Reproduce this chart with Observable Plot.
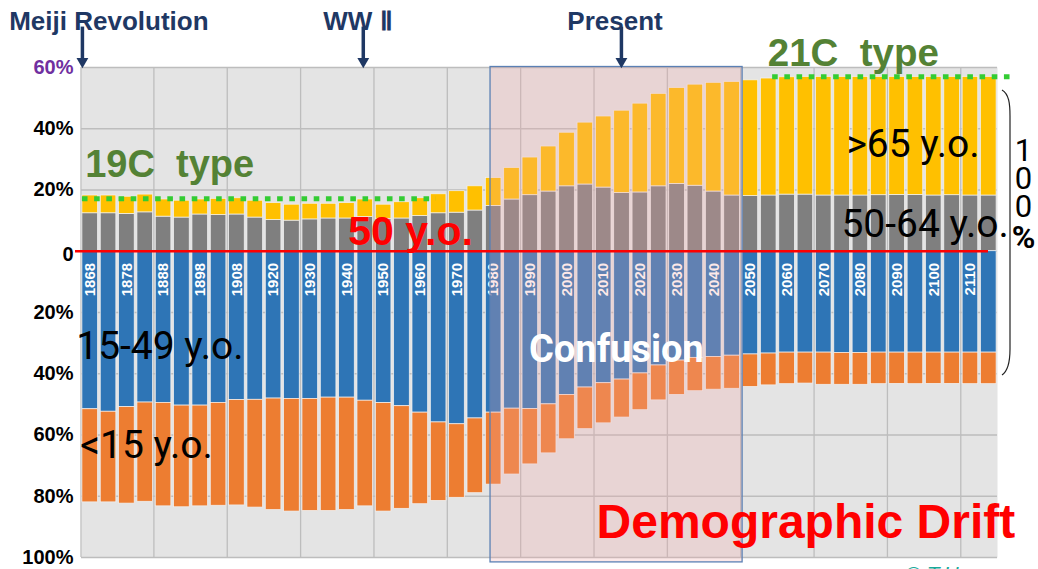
<!DOCTYPE html>
<html><head><meta charset="utf-8">
<script src="https://cdn.jsdelivr.net/npm/d3@7"></script>
<script src="https://cdn.jsdelivr.net/npm/@observablehq/plot@0.6"></script>
<style>
html,body{margin:0;padding:0;background:#fff;overflow:hidden}
#chart svg{display:block}
</style></head><body><div id="chart"></div>
<script>
// ---- data (percent of population) ----
const years = [1868,1873,1878,1883,1888,1893,1898,1903,1908,1913,
  1920,1925,1930,1935,1940,1945,1950,1955,1960,1965,
  1970,1975,1980,1985,1990,1995,2000,2005,2010,2015,
  2020,2025,2030,2035,2040,2045,2050,2055,2060,2065,
  2070,2075,2080,2085,2090,2095,2100,2105,2110,2115];
const age50to64 = [12.4,12.4,12.2,12.7,11.3,11.0,12.0,11.8,12.0,11.0,
  10.2,10.0,10.4,10.7,10.7,11.2,10.6,10.7,11.5,12.4,
  12.6,13.3,14.8,16.9,18.3,19.5,21.2,21.8,20.8,19.0,
  19.2,21.2,22.0,21.4,19.5,18.2,18.0,18.2,18.5,18.5,
  18.2,18.2,18.2,18.3,18.4,18.4,18.2,18.3,18.2,18.2];
const age65plus = [5.8,5.8,5.6,5.8,5.6,5.5,4.9,5.3,5.3,5.5,
  5.5,5.2,5.1,4.8,5.0,5.7,4.6,5.3,5.8,6.2,
  7.0,7.9,9.1,10.3,12.3,14.7,17.5,20.2,23.2,26.9,
  29.0,30.2,31.3,33.0,35.5,37.1,37.8,38.2,38.3,38.4,
  38.7,38.7,38.7,38.6,38.5,38.5,38.7,38.6,38.7,38.7];
const age15to49 = [51.6,52.4,50.9,49.4,49.5,50.4,50.4,49.5,48.6,48.5,
  48.1,48.2,48.2,47.8,47.8,48.8,49.6,50.6,52.7,55.9,
  56.5,54.6,52.7,51.4,51.5,50.0,46.9,44.5,43.1,41.9,
  39.9,37.3,35.7,34.8,34.5,34.1,33.7,33.4,33.1,33.1,
  33.1,33.2,33.2,33.1,33.1,33.1,33.1,33.1,33.1,33.1];
const age0to14 = [30.4,29.6,31.5,32.4,33.8,33.2,32.9,33.6,34.4,35.2,
  36.4,36.8,36.6,37.0,36.7,34.5,35.4,33.5,29.9,25.6,
  24.0,24.4,23.5,21.5,18.1,16.0,14.5,13.6,13.1,12.4,
  12.0,11.4,11.2,10.9,10.7,10.8,10.6,10.4,10.3,10.1,
  10.5,10.4,10.4,10.3,10.2,10.3,10.2,10.2,10.3,10.3];
const labelYears = [1868,1878,1888,1898,1908,1920,1930,1940,1950,1960,1970,
  1980,1990,2000,2010,2020,2030,2040,2050,2060,2070,2080,2090,2100,2110];
const groups = ["50-64 y.o.", ">65 y.o.", "15-49 y.o.", "<15 y.o."];
const groupColors = ["#7f7f7f", "#ffc000", "#2e75b6", "#ed7d31"];
const yTicks = [60,40,20,0,-20,-40,-60,-80,-100];
const gridYears = [1888,1908,1930,1950,1970,1990,2010,2030,2050,2070,2090,2110];
const confusionYears = [1980, 2045];
const type19 = {from: 1868, to: 1965, level: 17.0};
const type21 = {from: 2055, level: 56.8};
const events = [{name: "Meiji Revolution", year: 1868}, {name: "WW Ⅱ", year: 1945}, {name: "Present", year: 2015}];

const rows = years.flatMap((yr, i) => [
  {year: yr, group: groups[0], v: age50to64[i]},
  {year: yr, group: groups[1], v: age65plus[i]},
  {year: yr, group: groups[2], v: -age15to49[i]},
  {year: yr, group: groups[3], v: -age0to14[i]}
]);

function band(x) {
  const step = x(years[1]) - x(years[0]);
  const bw = typeof x.bandwidth === "function" ? x.bandwidth() : step * 0.85;
  return {step, bw, gap: step - bw};
}
function vGrid(index, {x, y}, values, dims) {
  const {gap} = band(x);
  const xs = [dims.marginLeft, ...gridYears.map(yr => x(yr) - gap / 2)];
  const g = d3.create("svg:g");
  g.selectAll("line").data(xs).join("line")
    .attr("x1", d => d).attr("x2", d => d)
    .attr("y1", y(60)).attr("y2", y(-100))
    .attr("stroke", "#bdbdbd").attr("stroke-width", 1.3);
  return g.node();
}
function overlay(index, {x, y}, values, dims) {
  const {bw, step} = band(x);
  const x1 = x(confusionYears[0]) + 0.3 * bw;
  const x2 = x(confusionYears[1]) + step;
  const g = d3.create("svg:g");
  g.append("rect").attr("x", x1).attr("y", y(60) - 0.5)
    .attr("width", x2 - x1).attr("height", y(-101.6) - y(60) + 0.5)
    .attr("fill", "rgb(245,165,165)").attr("fill-opacity", 0.26)
    .attr("stroke", "#5b80b4").attr("stroke-width", 1.3);
  return g.node();
}
function typeLines(index, {x, y}, values, dims) {
  const {bw} = band(x);
  const segs = [
    {x1: x(type19.from), x2: x(type19.to) + 0.35 * bw, y: y(type19.level)},
    {x1: x(type21.from) + 0.75 * bw, x2: dims.width - dims.marginRight + 18, y: y(type21.level)}
  ];
  const g = d3.create("svg:g");
  g.selectAll("line").data(segs).join("line")
    .attr("x1", d => d.x1).attr("x2", d => d.x2).attr("y1", d => d.y).attr("y2", d => d.y)
    .attr("stroke", "#33cc33").attr("stroke-width", 5).attr("stroke-dasharray", "5.6 6.6");
  return g.node();
}
function bracket(index, {x, y}, values, dims) {
  const r = dims.width - dims.marginRight;
  const t = y(52.5), b = y(-40.6);
  const g = d3.create("svg:g");
  g.append("path")
    .attr("d", `M${r + 5},${t} C${r + 12},${t + 4} ${r + 13},${t + 14} ${r + 13},${t + 26} L${r + 13},${b - 26} C${r + 13},${b - 12} ${r + 11},${b - 4} ${r + 5},${b}`)
    .attr("fill", "none").attr("stroke", "#222").attr("stroke-width", 1.2);
  return g.node();
}

const AR = "Liberation Sans, Arial, sans-serif";
const RB = "Roboto, 'Open Sans', sans-serif";
const navy = "#1f3864";
const note = (txt, o) => Plot.text([txt], {text: d => d, lineAnchor: "bottom", ...o});
const arrow = (ev, dx) => [
  Plot.ruleX([ev.year], {x: d => d, y1: 73.2, y2: 62.5, dx, stroke: navy, strokeWidth: 3.5}),
  Plot.dot([ev.year], {x: d => d, y: 62.0, dx, symbol: "triangle", rotate: 180, r: 4.4, fill: navy, stroke: "none"})
];
const pct = d => d === 0 ? "0" : Math.abs(d) + "%";

const chart = Plot.plot({
  width: 1038, height: 569,
  marginLeft: 81, marginRight: 41, marginTop: 67, marginBottom: 12,
  style: {fontFamily: AR, background: "#fff"},
  x: {type: "band", domain: years, paddingInner: 0.15, paddingOuter: 0.05, round: false, axis: null},
  y: {domain: [-100, 60], axis: null},
  color: {domain: groups, range: groupColors},
  marks: [
    Plot.frame({fill: "#e4e4e4", stroke: null}),
    Plot.ruleY(yTicks, {stroke: "#bdbdbd", strokeWidth: 1.3}),
    vGrid,
    Plot.barY(rows, {x: "year", y: "v", fill: "group", stroke: "#f2f2f2", strokeWidth: 0.7}),
    Plot.axisY(yTicks.filter(d => d !== 60 && d !== 0), {tickSize: 0, tickPadding: 8, tickFormat: pct, fontSize: 20, fontWeight: "bold", fontFamily: AR, color: "#000", label: null}),
    Plot.axisY([0], {tickSize: 0, tickPadding: 8, tickFormat: pct, fontSize: 20, fontWeight: "bold", fontFamily: AR, color: "#000", label: null, dy: 3}),
    Plot.axisY([60], {tickSize: 0, tickPadding: 8, tickFormat: pct, fontSize: 20, fontWeight: "bold", fontFamily: AR, color: "#7030a0", label: null}),
    Plot.text(labelYears, {x: d => d, y: -3.8, text: d => String(d), rotate: -90, textAnchor: "end", fill: "#fff", fontWeight: "bold", fontSize: 15, fontFamily: AR}),
    overlay,
    Plot.ruleY([0], {stroke: "#ff0000", strokeWidth: 2.3, insetLeft: -6, insetRight: 9}),
    typeLines,
    bracket,
    ...arrow(events[0], -7.8),
    ...arrow(events[1], -2),
    ...arrow(events[2], -0.6),
    note(events[0].name, {x: events[0].year, y: 72.4, dx: -81, textAnchor: "start", fontSize: 26, fontWeight: "bold", fill: navy, fontFamily: AR}),
    note(events[1].name, {x: events[1].year, y: 72.4, dx: -42, textAnchor: "start", fontSize: 26, fontWeight: "bold", fill: navy, fontFamily: AR}),
    note(events[2].name, {x: events[2].year, y: 72.4, dx: -7, textAnchor: "middle", fontSize: 26, fontWeight: "bold", fill: navy, fontFamily: AR}),
    note("21C\u00a0\u00a0type", {x: 2055, y: 60.65, dx: -1, textAnchor: "start", fontSize: 38.5, fontWeight: "bold", fill: "#548235", fontFamily: AR}),
    note("19C\u00a0\u00a0type", {x: 1868, y: 24.4, dx: -5, textAnchor: "start", fontSize: 38, fontWeight: "bold", fill: "#548235", fontFamily: AR}),
    note("50 y.o.", {x: 1945, y: 1.9, dx: -17, textAnchor: "start", fontSize: 41, fontWeight: "bold", fill: "#ff0000", fontFamily: AR}),
    note(">65 y.o.", {x: 2080, y: 30.7, dx: -14, textAnchor: "start", fontSize: 39, fill: "#000", fontFamily: RB}),
    note("50-64 y.o.", {x: 2080, y: 4.8, dx: -19, textAnchor: "start", fontSize: 39, fill: "#000", fontFamily: RB}),
    note("15-49 y.o.", {x: 1868, y: -35.1, dx: -14, textAnchor: "start", fontSize: 39, fill: "#000", fontFamily: RB}),
    note("<15 y.o.", {x: 1868, y: -67.4, dx: -10, textAnchor: "start", fontSize: 39, fill: "#000", fontFamily: RB}),
    note("Confusion", {x: 2015, y: -36.0, dx: -5.6, textAnchor: "middle", fontSize: 38, fontWeight: "bold", fill: "#fff", fontFamily: RB}),
    note("Demographic Drift", {x: 2065, y: -93.5, dx: 0.5, textAnchor: "middle", fontSize: 48, fontWeight: "bold", fill: "#ff0000", fontFamily: AR}),
    note("1\n0\n0", {frameAnchor: "right", y: 11.3, dx: 26, textAnchor: "middle", fontSize: 31, lineHeight: 0.89, fill: "#000", fontFamily: RB}),
    note("%", {frameAnchor: "right", y: 1.2, dx: 26, textAnchor: "middle", fontSize: 32, fontWeight: "bold", fill: "#000", fontFamily: RB}),
    note("© T.Hasegawa", {frameAnchor: "bottom-right", dx: -92, dy: 23, textAnchor: "start", fontSize: 21, fontStyle: "italic", fill: "#1aa99a", fontFamily: AR})
  ]
});
document.getElementById("chart").appendChild(chart);
</script>
</body></html>
